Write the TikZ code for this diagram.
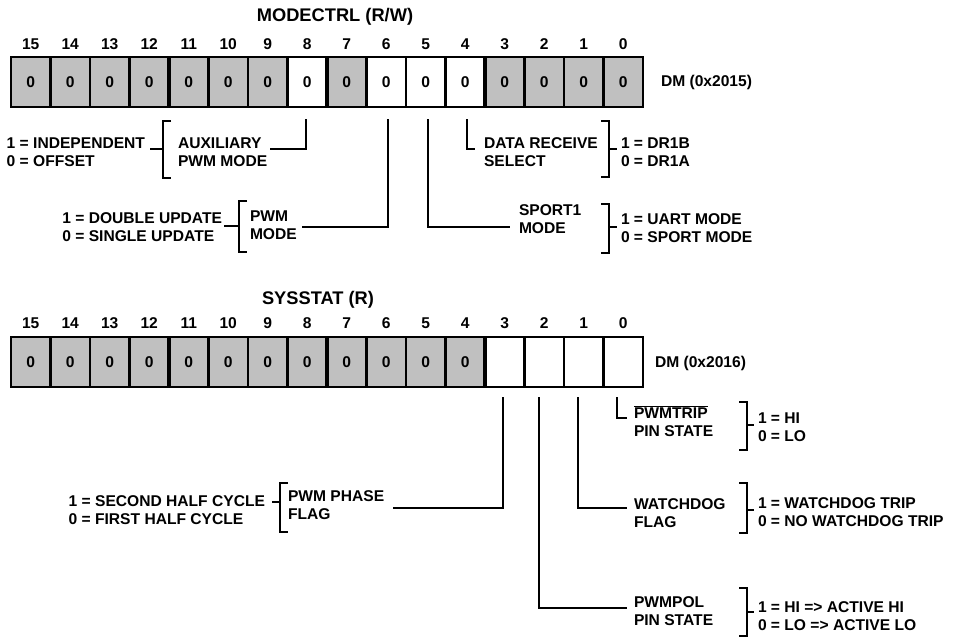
\documentclass[tikz,border=0pt]{standalone}
\usepackage{fontspec}
\setmainfont{Liberation Sans}
\definecolor{regfill}{RGB}{192,192,192}
\begin{document}
\begin{tikzpicture}[x=0.75pt,y=-0.75pt,
  every node/.style={inner sep=0pt,outer sep=0pt},
  lbl/.style={font=\fontsize{11.7}{13.4}\selectfont\bfseries,align=left},
  ttl/.style={font=\fontsize{13.7}{15}\selectfont\bfseries},
  cellbox/.style={draw,line width=1.5pt,minimum width=29.6pt,minimum height=37.5pt,font=\fontsize{11.7}{13.4}\selectfont\bfseries},
  conn/.style={line width=0.9pt},
  sep/.style={line width=3pt}]
\useasboundingbox (0,0) rectangle (958,637);
% ---------------- MODECTRL ----------------
\node[ttl] (t1) at (335,17) {MODECTRL (R/W)};
\foreach \i/\f in {0/regfill,1/regfill,2/regfill,3/regfill,4/regfill,5/regfill,6/regfill,7/white,8/regfill,9/white,10/white,11/white,12/regfill,13/regfill,14/regfill,15/regfill}{
  \pgfmathtruncatemacro{\b}{15-\i}
  \node[cellbox,fill=\f] (m\b) at ({11+39.5*\i+19.75},82) {0};
  \node[lbl] (mn\b) at ({11+39.5*\i+19.75},44) {\b};
}
\foreach \i in {4,8,12}{\draw[sep] ({11+39.5*\i},57) -- ({11+39.5*\i},107);}
\node[lbl,anchor=west] (dm1) at (661,82) {DM (0x2015)};
% bit 8
\node[lbl,anchor=east] (ind) at (145,152) {1 = INDEPENDENT\\0 = OFFSET};
\node[lbl,anchor=west] (aux) at (178,152) {AUXILIARY\\PWM MODE};
\draw[conn] (171,121) -- (163,121) -- (163,178) -- (171,178);
\draw[conn] (150,149) -- (163,149);
\draw[conn] (306,119) -- (306,149) -- (270,149);
% bit 6
\node[lbl,anchor=east] (dbl) at (222,227) {1 = DOUBLE UPDATE\\0 = SINGLE UPDATE};
\node[lbl,anchor=west] (pwmm) at (250,225) {PWM\\MODE};
\draw[conn] (247,201) -- (239,201) -- (239,252) -- (247,252);
\draw[conn] (224,226) -- (239,226);
\draw[conn] (388,119) -- (388,227) -- (302,227);
% bit 5
\node[lbl,anchor=west] (sp1) at (519,219) {SPORT1\\MODE};
\node[lbl,anchor=west] (uart) at (621,228) {1 = UART MODE\\0 = SPORT MODE};
\draw[conn] (601,204) -- (609,204) -- (609,253) -- (601,253);
\draw[conn] (609,227) -- (617,227);
\draw[conn] (428,119) -- (428,227) -- (510,227);
% bit 4
\node[lbl,anchor=west] (drs) at (484,152) {DATA RECEIVE\\SELECT};
\node[lbl,anchor=west] (dr1) at (621,152) {1 = DR1B\\0 = DR1A};
\draw[conn] (601,121) -- (609,121) -- (609,177) -- (601,177);
\draw[conn] (609,149) -- (617,149);
\draw[conn] (467,119) -- (467,149) -- (475,149);
% ---------------- SYSSTAT ----------------
\node[ttl] (t2) at (318,300) {SYSSTAT (R)};
\foreach \i in {0,...,15}{
  \pgfmathtruncatemacro{\b}{15-\i}
  \ifnum\i<12
    \node[cellbox,fill=regfill] (s\b) at ({11+39.5*\i+19.75},362) {0};
  \else
    \node[cellbox,fill=white] (s\b) at ({11+39.5*\i+19.75},362) {};
  \fi
  \node[lbl] (sn\b) at ({11+39.5*\i+19.75},323) {\b};
}
\foreach \i in {4,8,12}{\draw[sep] ({11+39.5*\i},337) -- ({11+39.5*\i},387);}
\node[lbl,anchor=west] (dm2) at (655,363) {DM (0x2016)};
% bit 0
\node[lbl,anchor=west] (trip) at (634,421) {$\overline{\mbox{PWMTRIP}}$\\PIN STATE};
\node[lbl,anchor=west] (hilo) at (758,427) {1 = HI\\0 = LO};
\draw[conn] (739,402) -- (747,402) -- (747,450) -- (739,450);
\draw[conn] (747,425) -- (754,425);
\draw[conn] (617,397) -- (617,418) -- (627,418);
% bit 1
\node[lbl,anchor=west] (wd) at (634,513) {WATCHDOG\\FLAG};
\node[lbl,anchor=west] (wdv) at (758,512) {1 = WATCHDOG TRIP\\0 = NO WATCHDOG TRIP};
\draw[conn] (739,483) -- (747,483) -- (747,533) -- (739,533);
\draw[conn] (747,510) -- (754,510);
\draw[conn] (578,397) -- (578,508) -- (627,508);
% bit 2
\node[lbl,anchor=west] (pol) at (634,611) {PWMPOL\\PIN STATE};
\node[lbl,anchor=west] (polv) at (758,616) {1 = HI => ACTIVE HI\\0 = LO => ACTIVE LO};
\draw[conn] (739,588) -- (747,588) -- (747,636) -- (739,636);
\draw[conn] (747,612) -- (754,612);
\draw[conn] (539,397) -- (539,608) -- (627,608);
% bit 3
\node[lbl,anchor=west] (phase) at (288,505) {PWM PHASE\\FLAG};
\node[lbl,anchor=east] (half) at (265,510) {1 = SECOND HALF CYCLE\\0 = FIRST HALF CYCLE};
\draw[conn] (288,483) -- (280,483) -- (280,532) -- (288,532);
\draw[conn] (272,502) -- (280,502);
\draw[conn] (503,397) -- (503,508) -- (393,508);
\end{tikzpicture}
\end{document}
